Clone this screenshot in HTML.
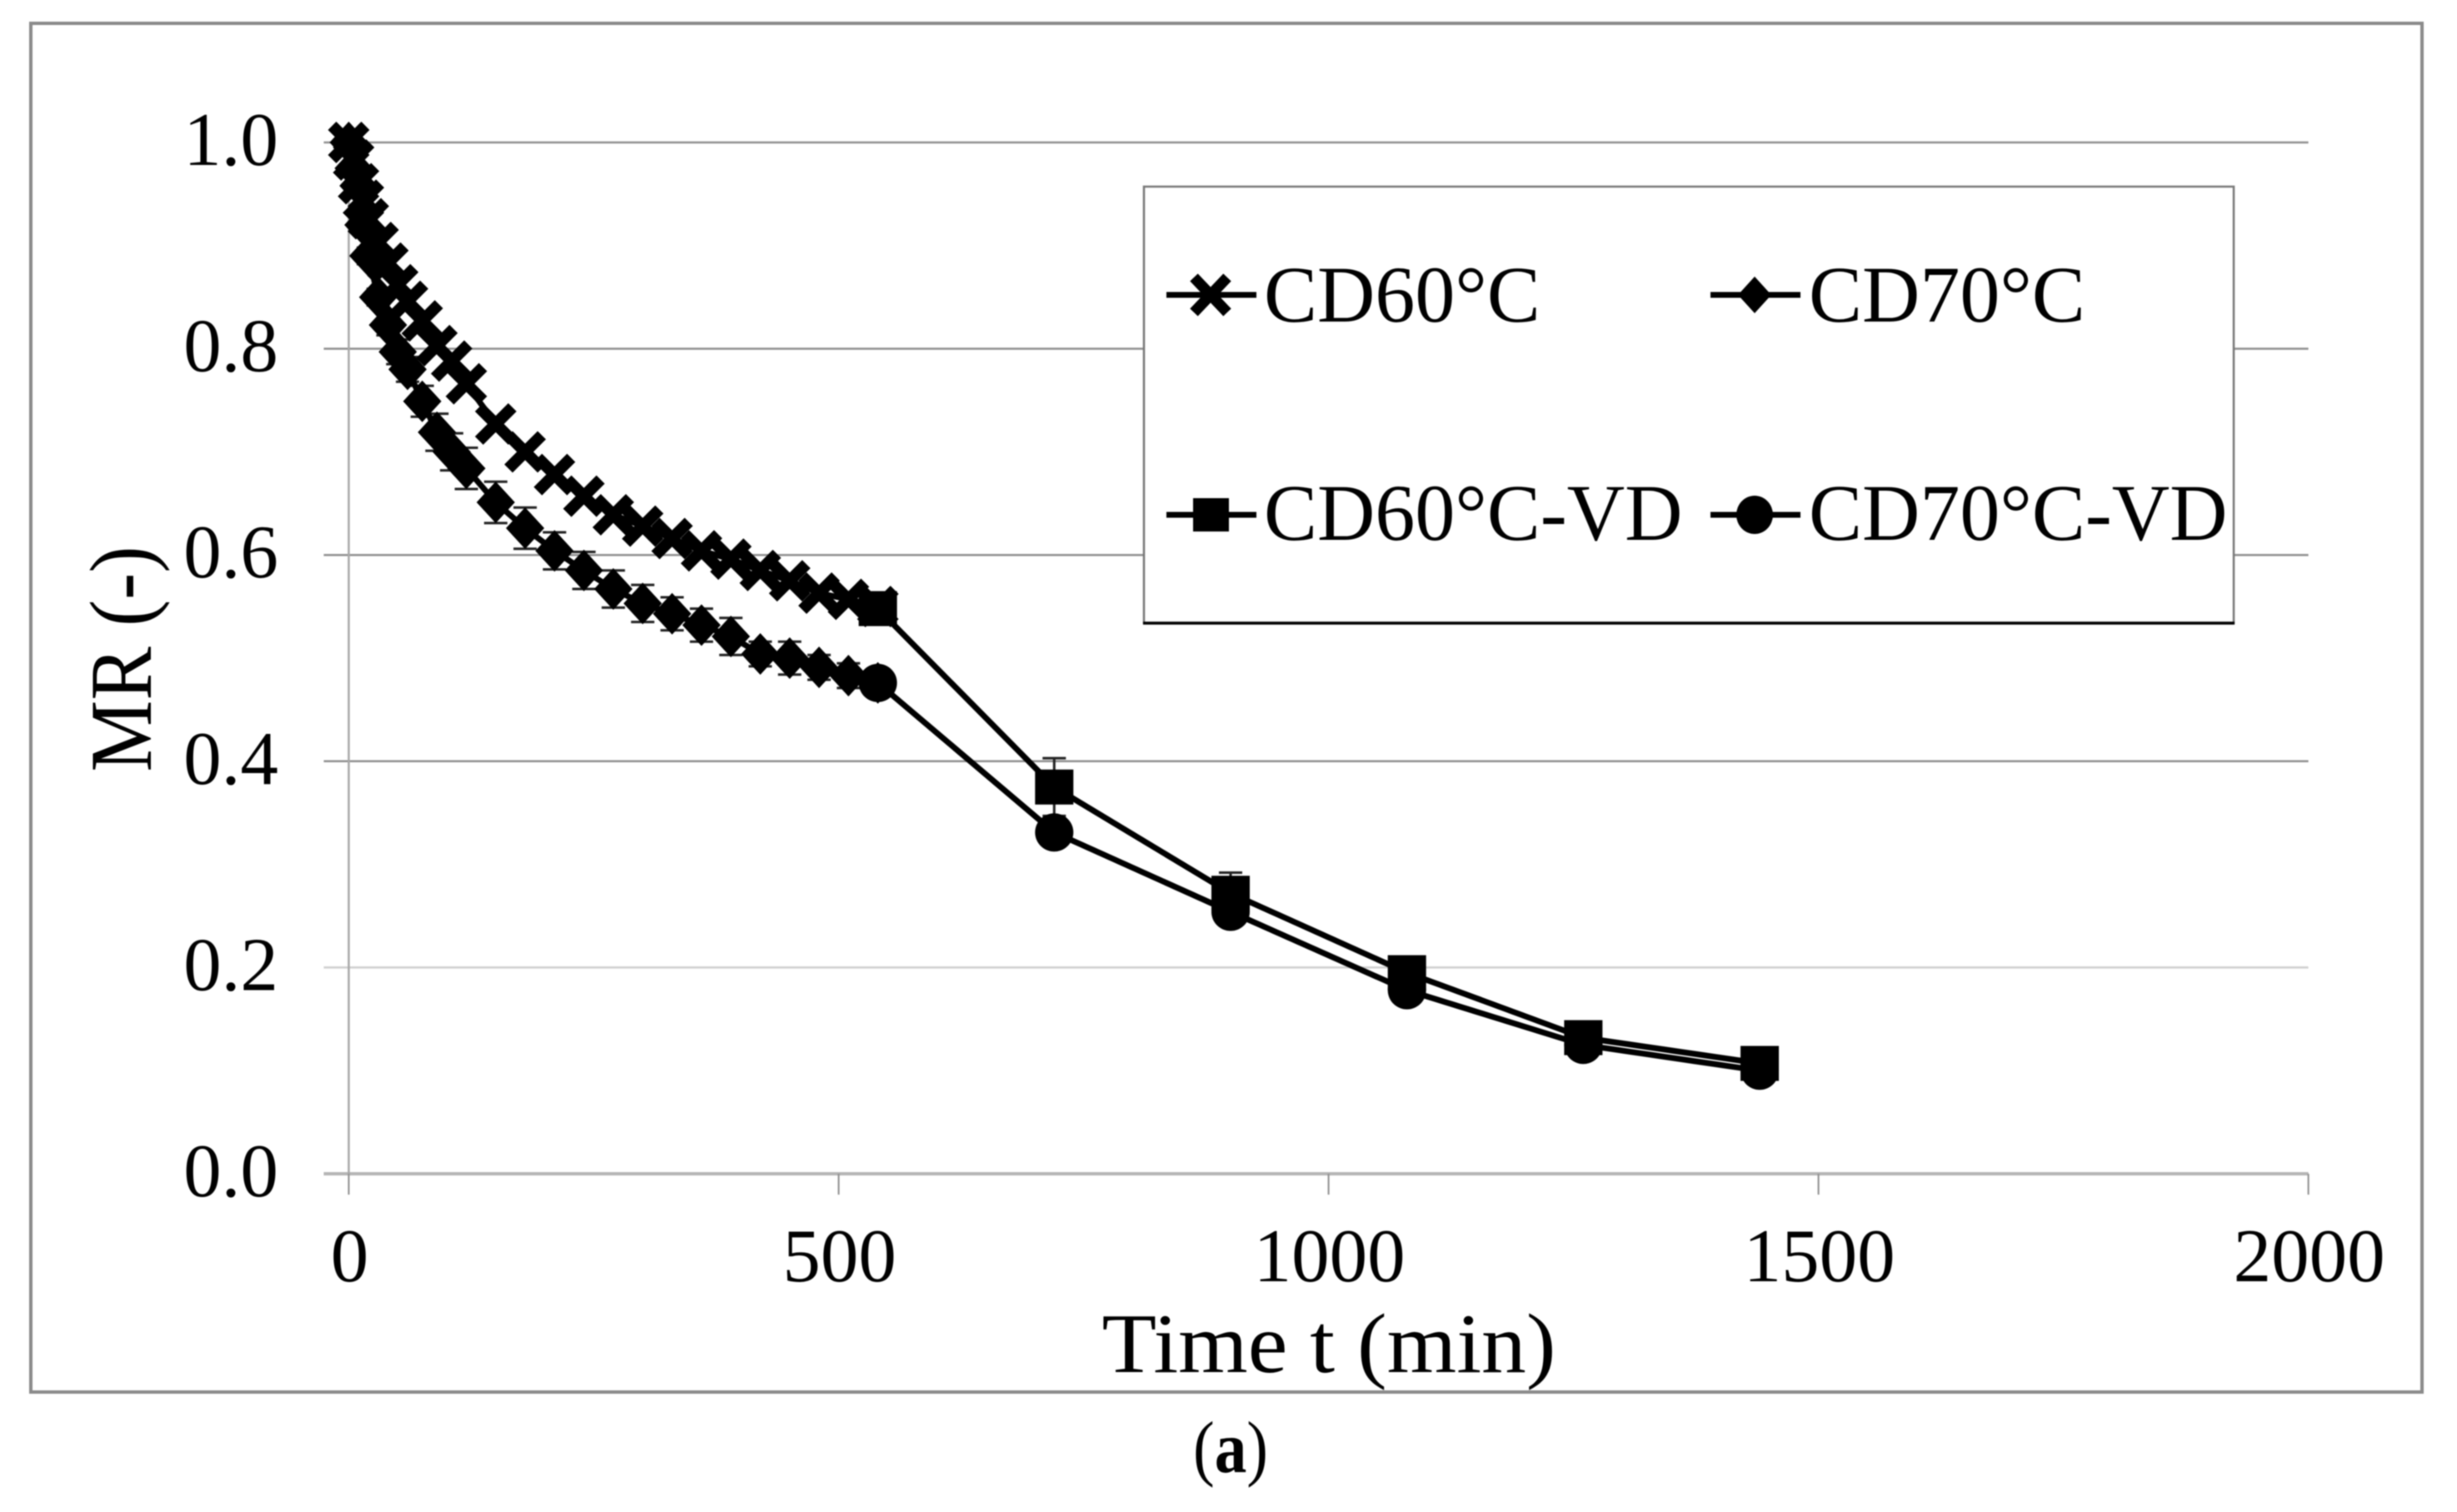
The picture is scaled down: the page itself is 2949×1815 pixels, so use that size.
<!DOCTYPE html>
<html lang="en">
<head>
<meta charset="utf-8">
<title>MR vs Time (a)</title>
<style>
  html, body { margin: 0; padding: 0; background: #fff; }
  #stage { display: block; width: 2949px; height: 1815px; filter: blur(0.7px); }
  text { font-family: "Liberation Serif", "Times New Roman", serif; fill: #000; }
</style>
</head>
<body>
<svg id="stage" xmlns="http://www.w3.org/2000/svg" width="2949" height="1815" viewBox="0 0 2949 1815">
  <rect x="0" y="0" width="2949" height="1815" fill="#fff"/>
  <rect x="37" y="28" width="2870" height="1643" fill="#fff" stroke="#8a8a8a" stroke-width="4"/>
  <g id="grid"></g>
  <g id="axes"></g>
  <g id="marks"></g>

  <text x="145" y="791" transform="rotate(-90 145 791)" dy="36" text-anchor="middle" font-size="106" textLength="271" lengthAdjust="spacingAndGlyphs">MR (-)</text>
  <text x="1595" y="1647" text-anchor="middle" font-size="102" textLength="545" lengthAdjust="spacingAndGlyphs">Time t (min)</text>
  <text x="1477" y="1767" text-anchor="middle" font-size="88" textLength="90" lengthAdjust="spacingAndGlyphs">(<tspan font-weight="bold">a</tspan>)</text>

  <g>
    <rect x="1373" y="224" width="1308" height="524" fill="#fff" stroke="#777" stroke-width="2.5"/>
    <line x1="1372" y1="748" x2="2682" y2="748" stroke="#000" stroke-width="3.5"/>

    <g>
      <line x1="1400" y1="354" x2="1508" y2="354" stroke="#000" stroke-width="7"/>
      <path d="M1433 333 L1473 375 M1473 333 L1433 375" stroke="#000" stroke-width="13" fill="none"/>
      <text x="1517" y="386" font-size="96">CD60°C</text>
    </g>
    <g>
      <line x1="2053" y1="354" x2="2161" y2="354" stroke="#000" stroke-width="7"/>
      <polygon points="2106,332 2126,354 2106,376 2086,354" fill="#000"/>
      <text x="2171" y="386" font-size="96">CD70°C</text>
    </g>
    <g>
      <line x1="1400" y1="618" x2="1508" y2="618" stroke="#000" stroke-width="7"/>
      <rect x="1432" y="598" width="43" height="40" fill="#000"/>
      <text x="1517" y="648" font-size="96">CD60°C-VD</text>
    </g>
    <g>
      <line x1="2053" y1="618" x2="2161" y2="618" stroke="#000" stroke-width="7"/>
      <ellipse cx="2106" cy="618" rx="22" ry="23" fill="#000"/>
      <text x="2171" y="648" font-size="96">CD70°C-VD</text>
    </g>
  </g>
</svg>

<script>
// ---- chart data ----
const xTickValues = [0, 500, 1000, 1500, 2000];
const yTickValues = [0, 0.2, 0.4, 0.6, 0.8, 1.0];
const yTickLabels = ["0.0", "0.2", "0.4", "0.6", "0.8", "1.0"];

const cdTimes = [0, 5, 10, 15, 20, 30, 40, 50, 60, 75, 90, 105, 120, 150, 180, 210, 240, 270, 300, 330, 360, 390, 420, 450, 480, 510, 540];
const cd60Values = [1.0, 0.983, 0.96, 0.944, 0.926, 0.903, 0.883, 0.862, 0.846, 0.827, 0.803, 0.788, 0.766, 0.727, 0.70, 0.678, 0.657, 0.639, 0.628, 0.616, 0.604, 0.596, 0.585, 0.575, 0.563, 0.557, 0.55];
const cd70Values = [1.0, 0.975, 0.958, 0.92, 0.89, 0.85, 0.823, 0.797, 0.78, 0.749, 0.719, 0.70, 0.684, 0.651, 0.626, 0.604, 0.585, 0.567, 0.553, 0.543, 0.532, 0.521, 0.504, 0.50, 0.491, 0.483, 0.476];
const cd70Errors = [0, 0.003, 0.005, 0.005, 0.008, 0.008, 0.01, 0.012, 0.012, 0.015, 0.018, 0.018, 0.02, 0.02, 0.02, 0.018, 0.018, 0.018, 0.018, 0.016, 0.016, 0.018, 0.012, 0.016, 0.012, 0.012, 0];

const vdTimes = [540, 720, 900, 1080, 1260, 1440];
const cd60VdValues = [0.548, 0.375, 0.272, 0.195, 0.132, 0.107];
const cd70VdValues = [0.476, 0.331, 0.254, 0.178, 0.125, 0.10];
const cd60VdErrors = [0.012, 0.028, 0.02, 0.008, 0.005, 0.004];

// ---- axis functions ----
const X0 = 418.6, X_SCALE = 1.176;
const Y0 = 1409, Y_SCALE = 1238;
function xAxis(t) { return X0 + t * X_SCALE; }
function yAxis(v) { return Y0 - v * Y_SCALE; }

const NS = "http://www.w3.org/2000/svg";
function mk(tag, parent, attrs) {
  const el = document.createElementNS(NS, tag);
  for (const k in attrs) el.setAttribute(k, attrs[k]);
  parent.appendChild(el);
  return el;
}
const grid = document.getElementById("grid");
const axes = document.getElementById("axes");
const marks = document.getElementById("marks");

// gridlines and y tick labels
yTickValues.forEach(function (v, i) {
  const y = yAxis(v);
  const line = mk("line", grid, { x1: X0 - 30, y1: y, x2: xAxis(2000), y2: y, stroke: v === 0 ? "#b4b4b4" : (v === 0.2 ? "#cfcfcf" : "#8f8f8f"), "stroke-width": v === 0 ? 4 : 2.5 });
  
  
  const label = mk("text", axes, { x: 334, y: y + 27, "text-anchor": "end", "font-size": 91 });
  label.textContent = yTickLabels[i];
  
  
});

// y axis line
const yAxisLine = mk("line", axes, { x1: X0, y1: yAxis(1), x2: X0, y2: yAxis(0), stroke: "#a8a8a8", "stroke-width": 2.5 });



// x ticks and labels
xTickValues.forEach(function (t) {
  const x = xAxis(t);
  const tick = mk("line", axes, { x1: x, y1: Y0, x2: x, y2: Y0 + 25, stroke: "#8f8f8f", "stroke-width": 2 });
  
  
  const label = mk("text", axes, { x: x + 1, y: 1538, "text-anchor": "middle", "font-size": 91 });
  label.textContent = String(t);
  
  
});

// series helpers
function drawLine(ts, vs, name) {
  const pts = ts.map(function (t, i) { return xAxis(t).toFixed(1) + "," + yAxis(vs[i]).toFixed(1); }).join(" ");
  const line = mk("polyline", marks, { points: pts, fill: "none", stroke: "#000", "stroke-width": 7, "stroke-linejoin": "round" });
  
  
}
function drawErrors(ts, vs, es, name) {
  ts.forEach(function (t, i) {
    if (!es[i]) return;
    const x = xAxis(t), hi = yAxis(vs[i] + es[i]), lo = yAxis(vs[i] - es[i]);
    const bar = mk("path", marks, { d: "M" + (x - 14) + " " + hi + " H" + (x + 14) + " M" + (x - 14) + " " + lo + " H" + (x + 14) + " M" + x + " " + hi + " V" + lo, fill: "none", stroke: "#222", "stroke-width": 3 });
    
    
  });
}

// error bars sit under the markers
drawErrors(cdTimes, cd70Values, cd70Errors, 'cd70-error-bar');
drawErrors(vdTimes, cd60VdValues, cd60VdErrors, 'cd60-vd-error-bar');

// lines
drawLine(cdTimes, cd60Values, 'cd60-line');
drawLine(cdTimes, cd70Values, 'cd70-line');
drawLine(vdTimes, cd60VdValues, 'cd60-vd-line');
drawLine(vdTimes, cd70VdValues, 'cd70-vd-line');

// markers
cdTimes.forEach(function (t, i) {
  const x = xAxis(t), y = yAxis(cd60Values[i]);
  const m = mk("path", marks, { d: "M" + (x - 20) + " " + (y - 20) + " L" + (x + 20) + " " + (y + 20) + " M" + (x + 20) + " " + (y - 20) + " L" + (x - 20) + " " + (y + 20), fill: "none", stroke: "#000", "stroke-width": 14 });
  
  
});
cdTimes.forEach(function (t, i) {
  const x = xAxis(t), y = yAxis(cd70Values[i]);
  const m = mk("polygon", marks, { points: x + "," + (y - 25) + " " + (x + 23) + "," + y + " " + x + "," + (y + 25) + " " + (x - 23) + "," + y, fill: "#000" });
  
  
});
vdTimes.forEach(function (t, i) {
  const x = xAxis(t), y = yAxis(cd60VdValues[i]);
  const m = mk("rect", marks, { x: x - 23, y: y - 21, width: 46, height: 42, fill: "#000" });
  
  
});
vdTimes.forEach(function (t, i) {
  const x = xAxis(t), y = yAxis(cd70VdValues[i]);
  const m = mk("ellipse", marks, { cx: x, cy: y, rx: 23, ry: 23, fill: "#000" });
  
  
});
</script>
</body>
</html>
